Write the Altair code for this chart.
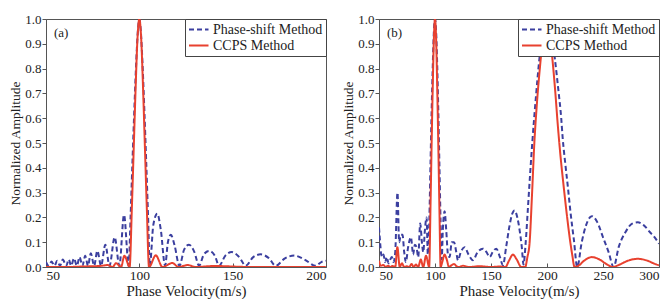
import altair as alt
import pandas as pd

SERIES = ["Phase-shift Method", "CCPS Method"]
COLORS = ["#3B3F9F", "#E8412F"]

# ---------- panel (a) ----------
A_PS_X = [50, 51.5, 53, 54.5, 56, 57.5, 59, 60.8, 62.2, 63.5, 65, 66.5, 68, 69.5, 71, 72.5,
          74, 75.8, 77.5, 79.5, 81.8, 84, 86.8, 89.3, 91.8, 94.3, 95.3, 96.3, 97.3, 98.3,
          99.2, 100, 100.8, 101.7, 102.7, 103.7, 104.7, 105.6, 107.5, 109.6, 111.5, 113.8,
          115.3, 116.9, 118.8, 121.5, 124, 126.6, 129.5, 132, 134.5, 137.3, 140.5, 142.7,
          146, 149.5, 153.5, 157, 161, 165, 169.5, 173, 178, 183, 188.5, 194.5, 197.5, 200]
A_PS_Y = [0.02, 0.005, 0.022, 0.005, 0.025, 0.005, 0.03, 0.005, 0.03, 0.005, 0.035, 0.005,
          0.04, 0.005, 0.045, 0.005, 0.055, 0.005, 0.065, 0.005, 0.09, 0.005, 0.12, 0.005,
          0.21, 0.005, 0.2, 0.42, 0.63, 0.82, 0.95, 1.0, 0.95, 0.82, 0.63, 0.42, 0.2, 0.005,
          0.17, 0.215, 0.15, 0.005, 0.1, 0.13, 0.09, 0.005, 0.07, 0.09, 0.06, 0.005, 0.05,
          0.065, 0.045, 0.005, 0.045, 0.06, 0.04, 0.005, 0.04, 0.051, 0.035, 0.005, 0.035,
          0.046, 0.03, 0.005, 0.02, 0.025]
A_CC_X = [50, 60, 70, 75, 80, 83, 85.7, 87.5, 90.2, 92, 94.8, 96, 97, 98, 99, 100, 101, 102,
          103, 104, 105.2, 108.8, 112.4, 117.7, 121, 126, 130, 140, 160, 200]
A_CC_Y = [0.0, 0.0, 0.002, 0.003, 0.005, 0.008, 0.0, 0.015, 0.0, 0.045, 0.0, 0.24, 0.48,
          0.72, 0.92, 1.0, 0.92, 0.72, 0.48, 0.24, 0.0, 0.047, 0.0, 0.016, 0.0, 0.008, 0.0,
          0.004, 0.0, 0.0]

# ---------- panel (b) ----------
B_PS_X = [50, 51, 52, 53, 54, 55.5, 57, 58.5, 60, 61.5, 63, 64.5, 66.5, 68, 69.5, 71, 72.5,
          74, 76, 78.5, 80.5, 82, 83.5, 85, 86.8, 88.3, 89.5, 91, 92.5, 93.6, 95, 96, 97, 98,
          99, 100, 101, 102, 103, 104, 105, 106, 107, 108.6, 110, 111.6, 113, 115, 117, 119,
          120.5, 123, 126.4, 130, 133.9, 138, 142.8, 146, 148.8, 151.5, 154.7, 158, 160.7,
          163.5, 166.6, 169, 171, 173.5, 175.5, 177.5, 179, 181, 183, 185, 187, 190, 193, 196,
          200, 204, 207, 210, 212.7, 214, 216.5, 218.7, 221, 224, 227, 231, 235, 240, 245, 250,
          255, 259.5, 264, 270, 276, 281, 286, 292, 296, 300]
B_PS_Y = [0.16, 0.1, 0.05, 0.04, 0.05, 0.02, 0.04, 0.015, 0.03, 0.04, 0.02, 0.06, 0.3, 0.1,
          0.13, 0.13, 0.06, 0.02, 0.08, 0.12, 0.05, 0.09, 0.08, 0.04, 0.175, 0.1, 0.06, 0.15,
          0.2, 0.05, 0.2, 0.42, 0.63, 0.81, 0.95, 1.0, 0.95, 0.81, 0.62, 0.4, 0.18, 0.03, 0.15,
          0.225, 0.15, 0.05, 0.04, 0.1, 0.1, 0.06, 0.027, 0.06, 0.08, 0.05, 0.027, 0.06, 0.074,
          0.06, 0.04, 0.06, 0.074, 0.04, 0.007, 0.08, 0.168, 0.215, 0.228, 0.2, 0.15, 0.08,
          0.01, 0.1, 0.24, 0.38, 0.51, 0.68, 0.83, 0.94, 1.0, 0.94, 0.84, 0.72, 0.6, 0.52, 0.41,
          0.32, 0.22, 0.11, 0.0, 0.1, 0.17, 0.205, 0.18, 0.12, 0.06, 0.0, 0.08, 0.14, 0.175,
          0.18, 0.17, 0.14, 0.12, 0.094]
B_CC_X = [50, 51.5, 54, 56, 58, 60, 62, 64.5, 66.4, 68.5, 70.5, 72.5, 75, 77, 79, 81, 83, 85,
          87.3, 89.5, 92, 94.8, 96, 97, 98, 99, 100, 101, 102, 103, 104, 105, 106.5, 108.5,
          110.5, 112.5, 115, 117, 119.5, 121, 125, 130, 140, 150, 158, 163, 166, 169.6, 173,
          177, 180.5, 182.5, 184.5, 186.5, 188.7, 191, 194, 197, 199.5, 202, 205, 207.5, 209.5,
          212, 215, 218, 220.2, 222.5, 224.6, 228, 233, 240, 247, 253, 258.5, 265, 272, 281,
          290, 296, 300]
B_CC_Y = [0.025, 0.005, 0.008, 0.0, 0.005, 0.0, 0.004, 0.0, 0.08, 0.0, 0.015, 0.0, 0.003, 0.0,
          0.012, 0.0, 0.01, 0.0, 0.03, 0.0, 0.045, 0.0, 0.25, 0.5, 0.73, 0.92, 1.0, 0.92, 0.72,
          0.48, 0.22, 0.0, 0.02, 0.05, 0.03, 0.0, 0.008, 0.012, 0.002, 0.0, 0.005, 0.0, 0.003,
          0.0, 0.002, 0.0, 0.025, 0.05, 0.03, 0.0, 0.0, 0.04, 0.1, 0.28, 0.5, 0.66, 0.82, 0.95,
          1.0, 0.95, 0.83, 0.7, 0.58, 0.45, 0.32, 0.2, 0.12, 0.05, 0.0, 0.005, 0.025, 0.04,
          0.03, 0.012, 0.0, 0.01, 0.025, 0.033, 0.025, 0.013, 0.007]

Y_TICKS = [0.0, 0.1, 0.2, 0.3, 0.4, 0.5, 0.6, 0.7, 0.8, 0.9, 1.0]
A_XTICKS = [50, 100, 150, 200]
B_XTICKS = [50, 100, 150, 200, 250, 300]

FONT = "Liberation Serif"


def frame(ps_x, ps_y, cc_x, cc_y):
    rows = [{"v": x, "a": y, "s": SERIES[0]} for x, y in zip(ps_x, ps_y)]
    rows += [{"v": x, "a": y, "s": SERIES[1]} for x, y in zip(cc_x, cc_y)]
    return pd.DataFrame(rows)


def legend():
    return alt.Legend(title=None, orient="top-right", offset=0,
                      fillColor="white", strokeColor="#444",
                      padding=3, symbolType="M-1,0H2", symbolSize=169,
                      symbolStrokeWidth=2, labelFont=FONT,
                      labelFontSize=14, labelColor="#222",
                      rowPadding=1, labelOffset=10)


def panel(df, xmax, xticks, tag):
    lines = alt.Chart(df).mark_line(interpolate="monotone", clip=True, strokeWidth=2).encode(
        x=alt.X("v:Q",
                scale=alt.Scale(domain=[50, xmax], nice=False, zero=False),
                axis=alt.Axis(values=xticks, title="Phase Velocity(m/s)", grid=False,
                              tickSize={"expr": "-4"}, labelPadding=5, titlePadding=2)),
        y=alt.Y("a:Q",
                scale=alt.Scale(domain=[0, 1], nice=False),
                axis=alt.Axis(values=Y_TICKS, format=".1f", title="Normalized Amplitude",
                              grid=False, tickSize=4, labelPadding=1, titlePadding=2,
                              titleFontSize=13.5, labelFontSize=13)),
        color=alt.Color("s:N", scale=alt.Scale(domain=SERIES, range=COLORS), legend=legend()),
        strokeDash=alt.StrokeDash("s:N", scale=alt.Scale(domain=SERIES, range=[[5, 3], [1, 0]]),
                                  legend=legend()),
    )
    label = alt.Chart(pd.DataFrame({"t": [tag]})).mark_text(
        font=FONT, fontSize=13, align="left", baseline="middle", color="#222"
    ).encode(x=alt.value(8), y=alt.value(14), text="t:N")
    return alt.layer(lines, label).properties(width=280, height=248).resolve_scale(
        color="independent", strokeDash="independent")


pa = panel(frame(A_PS_X, A_PS_Y, A_CC_X, A_CC_Y), 200, A_XTICKS, "(a)")
pb = panel(frame(B_PS_X, B_PS_Y, B_CC_X, B_CC_Y), 300, B_XTICKS, "(b)")

chart = alt.hconcat(pa, pb, spacing=53, bounds="flush").resolve_scale(
    color="independent", strokeDash="independent"
).resolve_legend(color="independent", strokeDash="independent").properties(
    padding={"left": 0, "top": 4, "right": 0, "bottom": 0}
).configure_axis(
    labelFont=FONT, titleFont=FONT, labelFontSize=13.5, titleFontSize=15,
    labelColor="#222", titleColor="#222", domainColor="#555", tickColor="#555",
    titleFontWeight="normal"
).configure_view(stroke="#555", strokeWidth=1)

chart.save("out.html", embed_options={"renderer": "svg", "actions": False})
